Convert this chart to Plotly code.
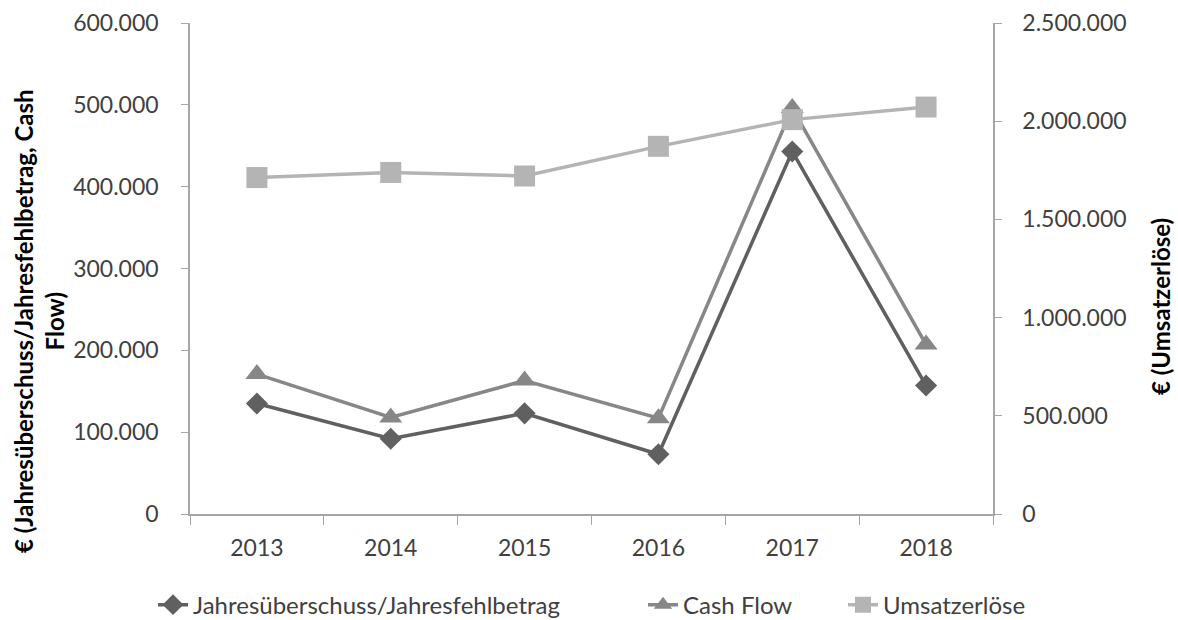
import plotly.graph_objects as go

years = ["2013", "2014", "2015", "2016", "2017", "2018"]
jahresueberschuss = [135000, 92000, 123000, 73000, 443000, 157000]
cash_flow = [171000, 118000, 163000, 117000, 496000, 207000]
umsatzerloese = [1713000, 1739000, 1721000, 1872000, 2008000, 2072000]

left_ticks = [0, 100000, 200000, 300000, 400000, 500000, 600000]
left_labels = ["0", "100.000", "200.000", "300.000", "400.000", "500.000", "600.000"]
right_ticks = [0, 500000, 1000000, 1500000, 2000000, 2500000]
right_labels = ["0", "500.000", "1.000.000", "1.500.000", "2.000.000", "2.500.000"]

left_title = "€ (Jahresüberschuss/Jahresfehlbetrag, Cash<br>Flow)"
right_title = "€ (Umsatzerlöse)"

FONT = "Lato, 'Open Sans', sans-serif"
AXIS_COLOR = "#a6a6a6"
TEXT_COLOR = "#404040"
TICK_SIZE = 23
W, H = 1178, 620
M_L, M_R, M_T, M_B = 190, 185, 23, 106
PLOT_W, PLOT_H = W - M_L - M_R, H - M_T - M_B

fig = go.Figure()

fig.add_trace(go.Scatter(
    x=years, y=jahresueberschuss, name="Jahresüberschuss/Jahresfehlbetrag",
    mode="lines+markers",
    line=dict(color="#606060", width=3.5),
    marker=dict(symbol="diamond", size=17, color="#606060"),
    yaxis="y", legend="legend",
))
fig.add_trace(go.Scatter(
    x=years, y=cash_flow, name="Cash Flow",
    mode="lines+markers",
    line=dict(color="#878787", width=3.5),
    marker=dict(symbol="triangle-up", size=20, color="#878787"),
    yaxis="y", legend="legend2",
))
fig.add_trace(go.Scatter(
    x=years, y=umsatzerloese, name="Umsatzerlöse",
    mode="lines+markers",
    line=dict(color="#b4b4b4", width=3.5),
    marker=dict(symbol="square", size=21, color="#b4b4b4"),
    yaxis="y2", legend="legend3",
))


def legend_box(left_px):
    return dict(
        orientation="h", xref="container", x=left_px / W, xanchor="left",
        yref="container", y=0.024, yanchor="middle",
        font=dict(family=FONT, size=24, color=TEXT_COLOR),
        bgcolor="rgba(0,0,0,0)",
    )


def axis_title(text, cx, cy):
    # vertical axis title centred at pixel position (cx, cy) of the page
    return dict(
        text=text, textangle=-90, showarrow=False,
        xref="paper", x=(cx - M_L) / PLOT_W, xanchor="center",
        yref="paper", y=(H - M_B - cy) / PLOT_H, yanchor="middle",
        align="center",
        font=dict(family=FONT, size=24, color="#000000", weight="bold"),
    )


fig.update_layout(
    width=W, height=H,
    margin=dict(l=M_L, r=M_R, t=M_T, b=M_B, autoexpand=False),
    paper_bgcolor="white", plot_bgcolor="white",
    font=dict(family=FONT, size=TICK_SIZE, color=TEXT_COLOR),
    showlegend=True,
    legend=legend_box(153),
    legend2=legend_box(643),
    legend3=legend_box(843),
    annotations=[
        axis_title(left_title, 39, 321),
        axis_title(right_title, 1160, 307),
    ],
    xaxis=dict(
        type="category", showgrid=False, showline=True, linecolor=AXIS_COLOR, linewidth=1.5,
        ticks="outside", ticklen=9, tickcolor=AXIS_COLOR, tickson="boundaries",
        range=[-0.5, 5.5], zeroline=False, ticklabelstandoff=13,
        tickfont=dict(family=FONT, size=TICK_SIZE, color=TEXT_COLOR),
    ),
    yaxis=dict(
        range=[0, 600000], tickvals=left_ticks, ticktext=left_labels,
        showgrid=False, showline=True, linecolor=AXIS_COLOR, linewidth=1.5,
        ticks="outside", ticklen=7, tickcolor=AXIS_COLOR, zeroline=False,
        ticklabelstandoff=18,
        tickfont=dict(family=FONT, size=TICK_SIZE, color=TEXT_COLOR),
    ),
    yaxis2=dict(
        range=[0, 2500000], tickvals=right_ticks, ticktext=right_labels,
        overlaying="y", side="right",
        showgrid=False, showline=True, linecolor=AXIS_COLOR, linewidth=1.5,
        ticks="outside", ticklen=7, tickcolor=AXIS_COLOR, zeroline=False,
        ticklabelstandoff=16,
        tickfont=dict(family=FONT, size=TICK_SIZE, color=TEXT_COLOR),
    ),
)

fig.write_html("out.html")
